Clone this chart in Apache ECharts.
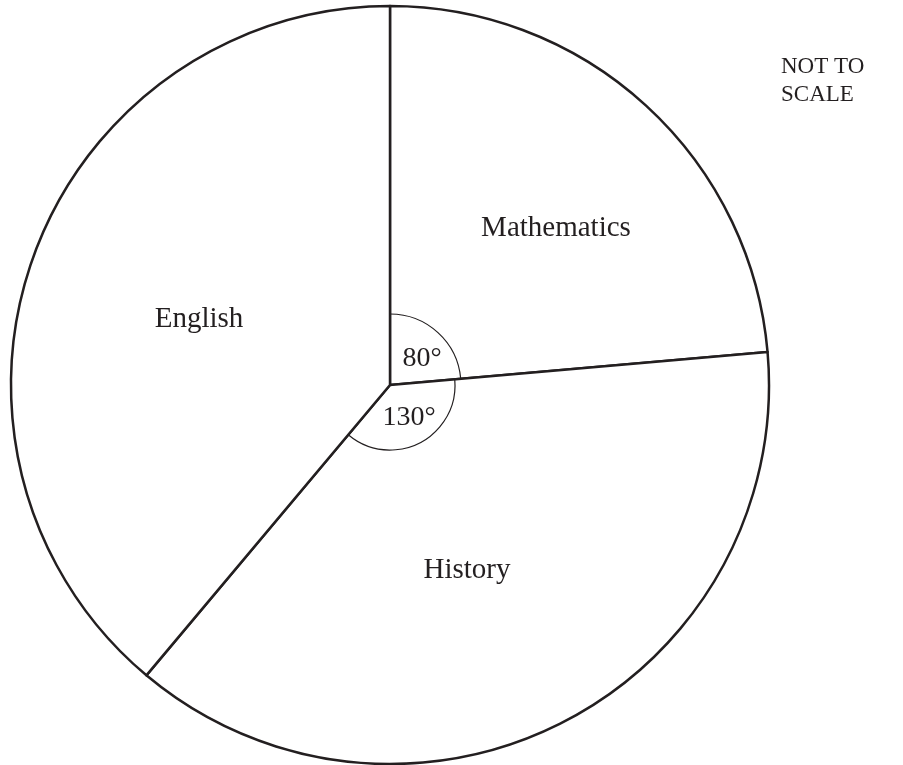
<!DOCTYPE html>
<html><head><meta charset="utf-8">
<script src="https://cdn.jsdelivr.net/npm/echarts@6/dist/echarts.min.js"></script>
<style>html,body{margin:0;padding:0;background:#fff}#c{width:903px;height:765px}</style>
</head><body><div id="c"></div>
<script>
// Subjects clockwise from 12 o'clock, with the drawn (not-to-scale) angles
const categories = ['Mathematics', 'History', 'English'];
const drawnAngles = [85, 135, 140];
// Angle labels written on the chart
const angleLabels = ['80°', '130°'];

const cx = 390, cy = 385, R = 379;
const font = '"Liberation Serif", "Times New Roman", serif';
const ink = '#231f20';

const chart = echarts.init(document.getElementById('c'), null, {renderer: 'canvas'});

// cumulative angles (degrees clockwise from top)
const cum = [0];
drawnAngles.forEach((a, i) => cum.push(cum[i] + a));
const toRad = d => (d - 90) * Math.PI / 180;

const arcRadii = [71, 65];
const arcs = angleLabels.map((t, i) => ({
  type: 'arc', silent: true,
  shape: {cx: cx, cy: cy, r: arcRadii[i], startAngle: toRad(cum[i]), endAngle: toRad(cum[i + 1]), clockwise: true},
  style: {stroke: ink, lineWidth: 1.2, fill: null}, z: 10
}));

const textPos = {
  'Mathematics': [556, 228],
  'History': [467, 570],
  'English': [199, 319]
};
const angleTextPos = [[422, 359], [409, 418]];

const texts = categories.map(c => ({
  type: 'text', silent: true, x: textPos[c][0], y: textPos[c][1], z: 20,
  style: {text: c, font: '29px ' + font, fill: ink, textAlign: 'center', textVerticalAlign: 'middle'}
})).concat(angleLabels.map((t, i) => ({
  type: 'text', silent: true, x: angleTextPos[i][0], y: angleTextPos[i][1], z: 20,
  style: {text: t, font: '28px ' + font, fill: ink, textAlign: 'center', textVerticalAlign: 'middle'}
}))).concat([
  {type: 'text', silent: true, x: 781, y: 53, z: 20,
   style: {text: 'NOT TO\nSCALE', font: '23px ' + font, fill: ink, textAlign: 'left', textVerticalAlign: 'top', lineHeight: 28}}
]);

chart.setOption({
  animation: false,
  backgroundColor: '#fff',
  series: [{
    type: 'pie',
    center: [cx, cy],
    radius: [0, R],
    startAngle: 90,
    clockwise: true,
    silent: true,
    label: {show: false},
    labelLine: {show: false},
    itemStyle: {color: '#fff', borderColor: ink, borderWidth: 2.5},
    data: categories.map((c, i) => ({name: c, value: drawnAngles[i]}))
  }],
  graphic: {elements: arcs.concat(texts)}
});
</script></body></html>
